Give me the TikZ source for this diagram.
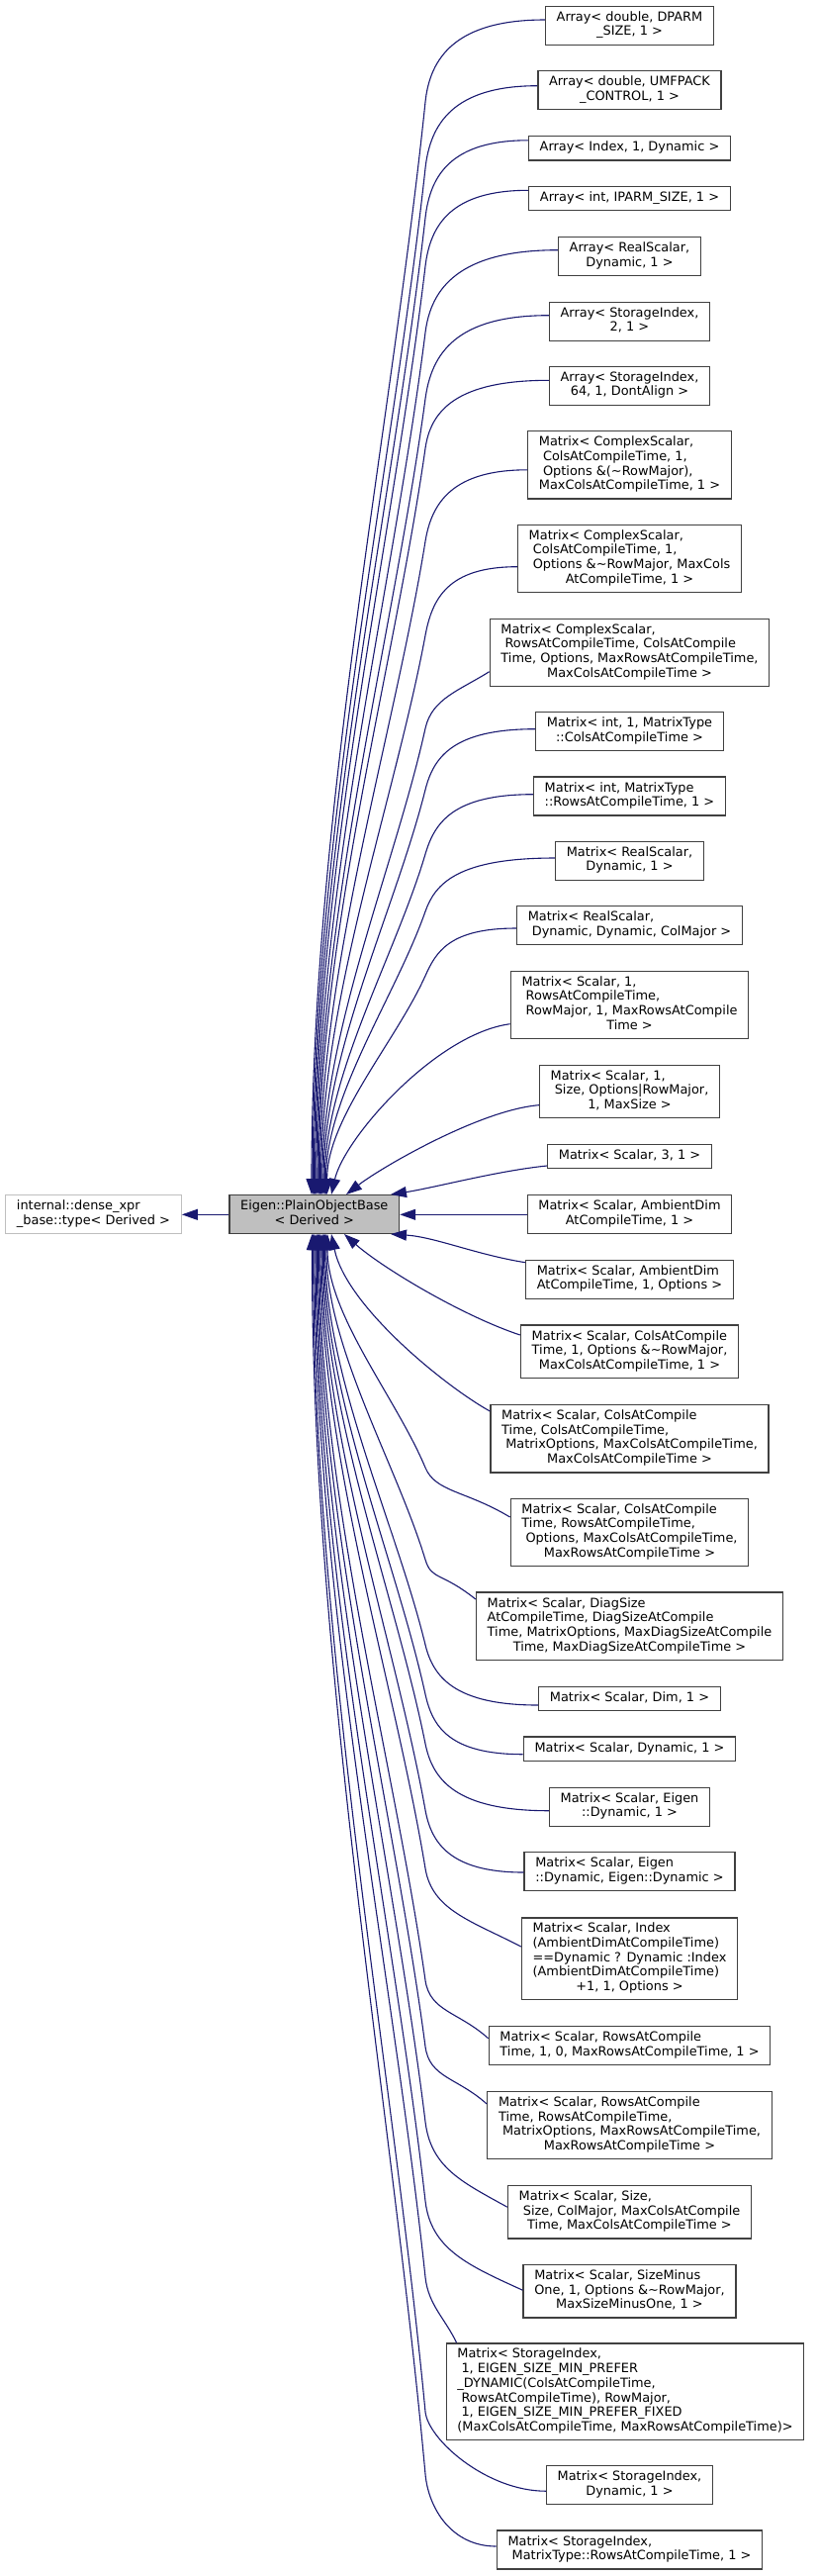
\documentclass[tikz,border=0pt]{standalone}
\usepackage{fontspec}
\setmainfont{DejaVu Sans}
\usetikzlibrary{arrows.meta,calc}
\definecolor{edgeblue}{HTML}{191970}
\definecolor{boxline}{HTML}{404040}
\definecolor{basefill}{HTML}{BFBFBF}
\newcommand\dxfont{\fontsize{12.9}{14.67}\selectfont}
% label: left aligned lines, last line centred
\newcommand\lbl[2]{\begin{tabular}{@{}l@{}}#1\\\multicolumn{1}{@{}c@{}}{#2}\end{tabular}}
\newcommand\one[1]{\begin{tabular}{@{}c@{}}#1\end{tabular}}
\newcommand\tl{\textasciitilde{}}
\tikzset{
  cls/.style={draw=boxline, line width=1.3pt, fill=white, inner xsep=11.2pt, inner ysep=4.8pt, font=\dxfont},
  basecls/.style={cls, fill=basefill},
  extcls/.style={cls, draw=basefill},
  inh/.style={draw=edgeblue, line width=1.1pt, -{Triangle[length=16pt,width=11pt]}},
}
\begin{document}
\begin{tikzpicture}[x=1pt, y=-1pt]
    \useasboundingbox (0,0) rectangle (827,2603);
    \node[extcls] (ext) at (94.5,1227.3) {\lbl{internal::dense\_xpr}{\_base::type< Derived >}};
    \node[basecls] (base) at (317.8,1227.3) {\lbl{Eigen::PlainObjectBase}{< Derived >}};
    \draw[inh] (base) -- (ext);
    % derived classes
    \node[cls] (c1) at (636.5,25.7) {\lbl{Array< double, DPARM}{\_SIZE, 1 >}};
    \node[cls] (c2) at (636.5,91) {\lbl{Array< double, UMFPACK}{\_CONTROL, 1 >}};
    \node[cls] (c3) at (636.5,149.8) {\one{Array< Index, 1, Dynamic >}};
    \node[cls] (c4) at (636.5,200.3) {\one{Array< int, IPARM\_SIZE, 1 >}};
    \node[cls] (c5) at (636.5,259.3) {\lbl{Array< RealScalar,}{Dynamic, 1 >}};
    \node[cls] (c6) at (636.5,324.7) {\lbl{Array< StorageIndex,}{2, 1 >}};
    \node[cls] (c7) at (636.5,389.7) {\lbl{Array< StorageIndex,}{64, 1, DontAlign >}};
    \node[cls] (c8) at (636.5,469.8) {\lbl{Matrix< ComplexScalar,\\\ ColsAtCompileTime, 1,\\\ Options \&(\tl RowMajor),}{MaxColsAtCompileTime, 1 >}};
    \node[cls] (c9) at (636.5,564.3) {\lbl{Matrix< ComplexScalar,\\\ ColsAtCompileTime, 1,\\\ Options \&\tl RowMajor, MaxCols}{AtCompileTime, 1 >}};
    \node[cls] (c10) at (636.5,659.3) {\lbl{Matrix< ComplexScalar,\\\ RowsAtCompileTime, ColsAtCompile\\Time, Options, MaxRowsAtCompileTime,}{MaxColsAtCompileTime >}};
    \node[cls] (c11) at (636.5,739) {\lbl{Matrix< int, 1, MatrixType}{::ColsAtCompileTime >}};
    \node[cls] (c12) at (636.5,804.5) {\lbl{Matrix< int, MatrixType}{::RowsAtCompileTime, 1 >}};
    \node[cls] (c13) at (636.5,869.7) {\lbl{Matrix< RealScalar,}{Dynamic, 1 >}};
    \node[cls] (c14) at (636.5,935) {\lbl{Matrix< RealScalar,}{\ Dynamic, Dynamic, ColMajor >}};
    \node[cls] (c15) at (636.5,1015.3) {\lbl{Matrix< Scalar, 1,\\\ RowsAtCompileTime,\\\ RowMajor, 1, MaxRowsAtCompile}{Time >}};
    \node[cls] (c16) at (636.5,1103) {\lbl{Matrix< Scalar, 1,\\\ Size, Options|RowMajor,}{1, MaxSize >}};
    \node[cls] (c17) at (636.5,1168.3) {\one{Matrix< Scalar, 3, 1 >}};
    \node[cls] (c18) at (636.5,1227.3) {\lbl{Matrix< Scalar, AmbientDim}{AtCompileTime, 1 >}};
    \node[cls] (c19) at (636.5,1292.7) {\lbl{Matrix< Scalar, AmbientDim}{AtCompileTime, 1, Options >}};
    \node[cls] (c20) at (636.5,1365.8) {\lbl{Matrix< Scalar, ColsAtCompile\\Time, 1, Options \&\tl RowMajor,}{MaxColsAtCompileTime, 1 >}};
    \node[cls] (c21) at (636.5,1453.7) {\lbl{Matrix< Scalar, ColsAtCompile\\Time, ColsAtCompileTime,\\\ MatrixOptions, MaxColsAtCompileTime,}{MaxColsAtCompileTime >}};
    \node[cls] (c22) at (636.5,1548.3) {\lbl{Matrix< Scalar, ColsAtCompile\\Time, RowsAtCompileTime,\\\ Options, MaxColsAtCompileTime,}{MaxRowsAtCompileTime >}};
    \node[cls] (c23) at (636.5,1643.2) {\lbl{Matrix< Scalar, DiagSize\\AtCompileTime, DiagSizeAtCompile\\Time, MatrixOptions, MaxDiagSizeAtCompile}{Time, MaxDiagSizeAtCompileTime >}};
    \node[cls] (c24) at (636.5,1716.5) {\one{Matrix< Scalar, Dim, 1 >}};
    \node[cls] (c25) at (636.5,1767.2) {\one{Matrix< Scalar, Dynamic, 1 >}};
    \node[cls] (c26) at (636.5,1825.7) {\lbl{Matrix< Scalar, Eigen}{::Dynamic, 1 >}};
    \node[cls] (c27) at (636.5,1891) {\lbl{Matrix< Scalar, Eigen}{::Dynamic, Eigen::Dynamic >}};
    \node[cls] (c28) at (636.5,1979.3) {\lbl{Matrix< Scalar, Index\\(AmbientDimAtCompileTime)\\==Dynamic ? Dynamic :Index\\(AmbientDimAtCompileTime)}{+1, 1, Options >}};
    \node[cls] (c29) at (636.5,2067.2) {\lbl{Matrix< Scalar, RowsAtCompile}{Time, 1, 0, MaxRowsAtCompileTime, 1 >}};
    \node[cls] (c30) at (636.5,2147.5) {\lbl{Matrix< Scalar, RowsAtCompile\\Time, RowsAtCompileTime,\\\ MatrixOptions, MaxRowsAtCompileTime,}{MaxRowsAtCompileTime >}};
    \node[cls] (c31) at (636.5,2235.2) {\lbl{Matrix< Scalar, Size,\\\ Size, ColMajor, MaxColsAtCompile}{Time, MaxColsAtCompileTime >}};
    \node[cls] (c32) at (636.5,2315.2) {\lbl{Matrix< Scalar, SizeMinus\\One, 1, Options \&\tl RowMajor,}{MaxSizeMinusOne, 1 >}};
    \node[cls] (c33) at (632,2416.7) {\lbl{Matrix< StorageIndex,\\\ 1, EIGEN\_SIZE\_MIN\_PREFER\\\_DYNAMIC(ColsAtCompileTime,\\\ RowsAtCompileTime), RowMajor,\\\ 1, EIGEN\_SIZE\_MIN\_PREFER\_FIXED}{(MaxColsAtCompileTime, MaxRowsAtCompileTime)>}};
    \node[cls] (c34) at (636.5,2511.2) {\lbl{Matrix< StorageIndex,}{Dynamic, 1 >}};
    \node[cls] (c35) at (636.5,2576.5) {\lbl{Matrix< StorageIndex,}{\ MatrixType::RowsAtCompileTime, 1 >}};
    % long edges: child / shift / first handle / crossing of x=430 / back handle / end point / last handle
    \foreach \i/\sh/\rx/\ry/\ym/\q/\ex/\ey/\h in {1/5.7/90/0/103/45/315/1207/-380, 2/4.3/85/0/170/45/316.2/1207/-363,
        3/8/78/0/220/43/317.4/1207/-345, 4/8/78/0/269/42/318.6/1207/-328, 5/6.6/100/0/336/45/319.8/1207/-305,
        6/6/94/0/403/46/321/1207/-282, 7/5.4/94/0/453/38/322.2/1207/-264, 8/-5/75/0/547/40/323.4/1207/-231,
        9/-8.4/70/0/642/38/324.6/1207/-198, 10/-19.4/30/19/736/31/325.8/1207/-165, 11/2.3/83/0/798/34/327/1207/-143,
        12/1.8/81/0/863/33/328.2/1207/-120, 13/2.7/98/0/921/30/329.4/1207/-100, 14/-3/68/0/986/26/330.6/1207/-77,
        22/15.3/45/-27/1483/27/331/1247/82, 23/27.2/35/-28/1576/22/329.8/1247/115, 24/-6.5/85/0/1662/33/328.6/1247/145,
        25/-5.5/75/0/1712/33/327.4/1247/163, 26/-4/94/0/1762/37/326.2/1247/180, 27/-1/75/0/1829/33/325/1247/204,
        28/12.3/50/-26/1888/43/323.8/1247/224, 29/7.5/30/-27/2001/32/322.6/1247/264, 30/21.5/30/-27/2068/32/321.4/1247/287,
        31/5/45/-25/2144/47/320.2/1247/314, 32/1/55/-25/2224/49/319/1247/342,
        34/-6/60/0/2437/28/316.6/1247/417, 35/3.5/45/0/2500/35/315.4/1247/439} {
      \coordinate (m) at (430,\ym);
      \coordinate (e) at (\ex,\ey);
      \draw[inh] ([yshift=\sh pt]c\i.west) .. controls +(-\rx,\ry) and ($(m)!-\q pt!(e)$) .. (m)
        .. controls ($(m)!0.3!(e)$) and +(0,\h) .. (e);
    }
    \coordinate (m33) at (430,2301);
    \coordinate (e33) at (317.8,1247);
    \draw[inh] ([xshift=11pt]c33.north west) .. controls +(-12,-25) and ($(m33)!-28pt!(e33)$) .. (m33)
      .. controls ($(m33)!0.3!(e33)$) and +(0,369) .. (e33);
    % short edges
    \draw[inh] ([yshift=-19.4pt]c15.west) .. controls +(-75,10) and +(13,-57) .. (335,1207);
    \draw[inh] ([yshift=-13.7pt]c16.west) .. controls +(-60,5) and +(35,-27) .. (350,1207);
    \draw[inh] ([yshift=-9.7pt]c17.west) .. controls +(-50,5) and +(45,-7) .. (395,1207);
    \draw[inh] (c18) -- (base);
    \draw[inh] ([yshift=17pt]c19.west) .. controls +(-50,-8) and +(45,3) .. (395,1247);
    \draw[inh] ([yshift=16.8pt]c20.west) .. controls +(-60,-20) and +(37,33) .. (348,1247);
    \draw[inh] ([yshift=27.7pt]c21.west) .. controls +(-45,-25) and +(15,73) .. (335,1247);
\end{tikzpicture}
\end{document}
